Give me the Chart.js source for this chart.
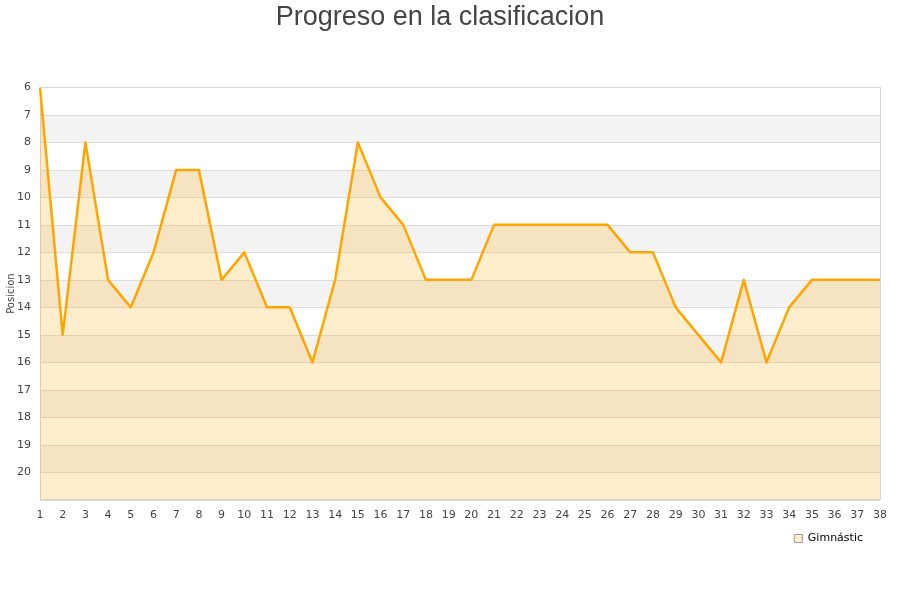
<!DOCTYPE html>
<html>
<head>
<meta charset="utf-8">
<script src="https://cdn.jsdelivr.net/npm/chart.js@4"></script>
<style>
  html, body { margin: 0; padding: 0; background: #fff; }
  #wrap { width: 900px; height: 600px; }
</style>
</head>
<body>
<div id="wrap"><canvas id="chart" width="900" height="600"></canvas></div>
<script>
/* data */
const jornadas = ["1","2","3","4","5","6","7","8","9","10","11","12","13","14","15","16","17","18","19",
                  "20","21","22","23","24","25","26","27","28","29","30","31","32","33","34","35","36","37","38"];
const posiciones = [6, 15, 8, 13, 14, 12, 9, 9, 13, 12, 14, 14, 16, 13, 8, 10, 11, 13, 13,
                    13, 11, 11, 11, 11, 11, 11, 12, 12, 14, 15, 16, 13, 16, 14, 13, 13, 13, 13];
const equipo = "Gimnástic";
const yMin = 6, yMax = 21;

/* stripes behind the plot + frame */
const bands = {
  id: "bands",
  afterLayout(c) {
    // pull the legend a bit in from the right edge
    c.legend.right -= 7;
  },
  beforeDatasetsDraw(c) {
    const { ctx, chartArea: a, scales: { y } } = c;
    ctx.save();
    ctx.fillStyle = "#f3f3f3";
    for (let v = yMin + 1; v < yMax; v += 2) {
      const t = y.getPixelForValue(v), b = y.getPixelForValue(v + 1);
      ctx.fillRect(a.left, t, a.right - a.left, b - t);
    }
    ctx.strokeStyle = "#dcdcdc";
    ctx.lineWidth = 1;
    ctx.beginPath();
    for (let v = yMin; v <= yMax; v++) {
      const p = Math.round(y.getPixelForValue(v)) + 0.5;
      ctx.moveTo(a.left, p); ctx.lineTo(a.right, p);
    }
    ctx.stroke();
    ctx.strokeStyle = "#d6d6d6";
    ctx.strokeRect(Math.round(a.left) + 0.5, Math.round(a.top) + 0.5, Math.round(a.right - a.left), Math.round(a.bottom - a.top));
    ctx.restore();
  }
};

new Chart(document.getElementById("chart"), {
  type: "line",
  data: {
    labels: jornadas,
    datasets: [{
      label: equipo,
      data: posiciones,
      borderColor: "#ffa500",
      borderWidth: 2.5,
      borderJoinStyle: "round",
      backgroundColor: "rgba(255,165,0,0.2)",
      fill: { value: yMax },
      pointRadius: 0,
      tension: 0
    }]
  },
  options: {
    responsive: false,
    animation: false,
    layout: { padding: { left: 0, right: 20, top: 0, bottom: 46 } },
    plugins: {
      title: {
        display: true,
        text: "Progreso en la clasificacion",
        color: "#444",
        font: { family: "Liberation Sans", size: 27, weight: "normal" },
        padding: { top: 1, bottom: 54 }
      },
      legend: {
        position: "bottom",
        align: "end",
        labels: {
          boxWidth: 8, boxHeight: 8,
          padding: 10,
          color: "#222",
          font: { family: "DejaVu Sans", size: 11 },
          generateLabels: () => [{ text: equipo, fillStyle: "#ffedcc", strokeStyle: "#999", lineWidth: 1 }]
        }
      },
      tooltip: { enabled: false }
    },
    scales: {
      x: {
        offset: false,
        grid: { display: false },
        border: { display: false },
        ticks: { color: "#444", font: { family: "DejaVu Sans", size: 11 }, maxRotation: 0, autoSkip: false, padding: 1 }
      },
      y: {
        reverse: true,
        min: yMin, max: yMax,
        grid: { display: false },
        border: { display: false },
        afterFit(s) { s.width = 40; },
        title: { display: true, text: "Posicion", color: "#444", font: { family: "DejaVu Sans", size: 10 }, padding: { top: 5, bottom: 0 } },
        ticks: {
          stepSize: 1,
          color: "#444",
          font: { family: "DejaVu Sans", size: 11 },
          padding: 1,
          callback: v => v === yMax ? "" : v
        }
      }
    }
  },
  plugins: [bands]
});
</script>
</body>
</html>
